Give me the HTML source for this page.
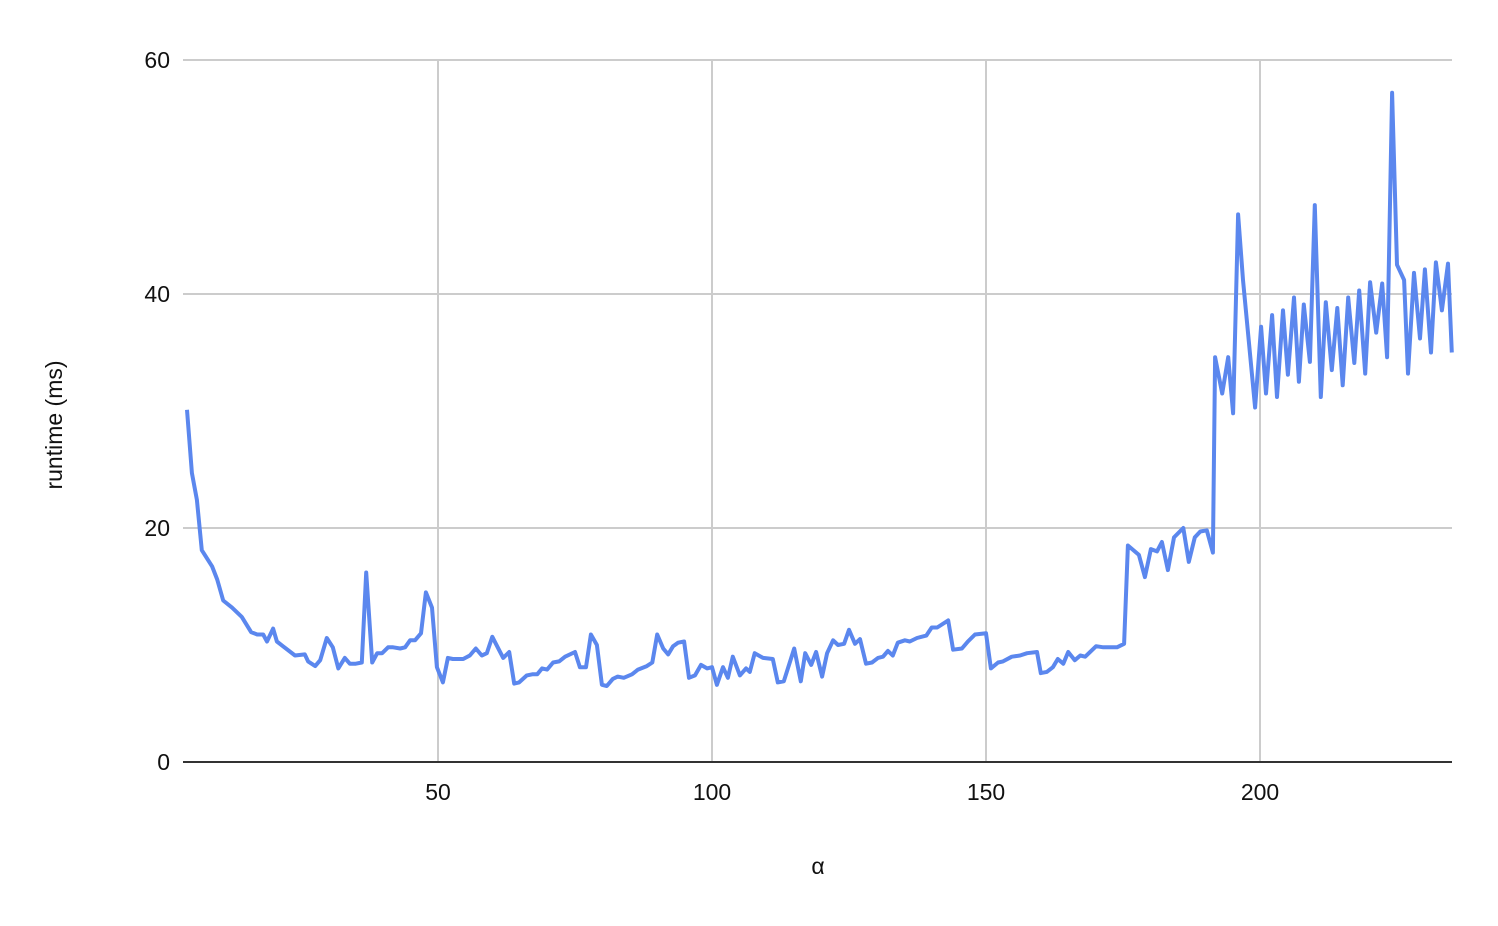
<!DOCTYPE html>
<html><head><meta charset="utf-8"><style>
html,body{margin:0;padding:0;background:#fff;}
svg{display:block;font-family:"Liberation Sans",Arial,sans-serif;}
</style></head><body>
<svg id="chart" width="1498" height="926">
<g id="grid"></g>
<g id="axes"></g>
<g id="series"></g>
<text x="62" y="425" transform="rotate(-90 62 425)" text-anchor="middle" font-size="23" fill="#111">runtime (ms)</text>
<text x="818" y="874" text-anchor="middle" font-size="23" fill="#111">α</text>
</svg>
<script>
const xTicks = [50, 100, 150, 200];
const yTicks = [0, 20, 40, 60];
const alphaVals = [4.2,5.1,6.0,6.9,8.8,9.7,10.8,12.4,14.2,15.9,17.0,18.1,18.8,19.9,20.6,21.7,23.9,25.7,26.3,27.6,28.5,29.7,30.8,31.8,33.0,33.9,35.0,36.1,36.9,38.0,38.9,39.8,40.9,41.8,43.1,44.0,44.9,45.8,46.9,47.8,48.9,49.8,50.9,51.8,52.7,54.6,55.8,56.9,58.0,58.9,59.9,60.9,61.9,
63.0,63.9,64.8,66.2,67.2,68.1,69.0,69.9,71.0,72.1,73.2,75.0,75.9,77.0,77.9,79.0,79.9,80.8,81.9,82.8,83.9,85.4,86.5,88.1,89.1,90.0,91.1,92.0,92.9,93.8,94.9,95.8,96.9,98.0,99.1,100.0,100.9,102.0,102.9,103.8,105.1,106.2,106.9,107.8,109.3,111.1,112.0,113.1,115.0,116.2,117.0,118.1,119.0,120.1,
121.0,122.1,123.0,124.1,125.0,126.1,127.0,128.1,129.2,130.3,131.2,132.1,133.0,133.9,135.2,136.1,137.4,139.1,140.1,141.1,143.1,144.0,145.6,146.7,148.0,150.0,150.9,152.2,153.1,154.7,156.2,157.5,159.3,160.0,161.1,162.2,163.1,164.1,165.0,166.2,167.2,168.1,170.1,171.4,173.9,175.2,175.9,177.9,179.0,180.1,181.2,182.1,183.2,184.3,186.0,187.0,188.1,189.1,190.3,191.4,
191.8,193.1,194.2,195.1,196.0,196.9,199.1,200.2,201.1,202.2,203.1,204.2,205.1,206.2,207.1,208.0,209.1,210.0,211.1,212.0,213.1,214.1,215.1,216.1,217.2,218.1,219.2,220.1,221.2,222.3,223.2,224.1,225.0,226.3,227.0,228.1,229.2,230.1,231.2,232.1,233.2,234.3,235.0];
const runtimeVals = [30.1,24.7,22.4,18.1,16.7,15.6,13.8,13.2,12.4,11.1,10.9,10.9,10.3,11.4,10.3,9.9,9.1,9.2,8.6,8.2,8.7,10.6,9.8,8.0,8.9,8.4,8.4,8.5,16.2,8.5,9.3,9.3,9.8,9.8,9.7,9.8,10.4,10.4,11.0,14.5,13.2,8.1,6.8,8.9,8.8,8.8,9.1,9.7,9.1,9.3,10.7,9.8,8.9,
9.4,6.7,6.8,7.4,7.5,7.5,8.0,7.9,8.5,8.6,9.0,9.4,8.1,8.1,10.9,10.0,6.6,6.5,7.1,7.3,7.2,7.5,7.9,8.2,8.5,10.9,9.7,9.2,9.9,10.2,10.3,7.2,7.4,8.3,8.0,8.1,6.6,8.1,7.2,9.0,7.4,8.0,7.7,9.3,8.9,8.8,6.8,6.9,9.7,6.9,9.3,8.3,9.4,7.3,
9.3,10.4,10.0,10.1,11.3,10.1,10.5,8.4,8.5,8.9,9.0,9.5,9.1,10.2,10.4,10.3,10.6,10.8,11.5,11.5,12.1,9.6,9.7,10.3,10.9,11.0,8.0,8.5,8.6,9.0,9.1,9.3,9.4,7.6,7.7,8.1,8.8,8.4,9.4,8.7,9.1,9.0,9.9,9.8,9.8,10.1,18.5,17.7,15.8,18.2,18.0,18.8,16.4,19.2,20.0,17.1,19.2,19.7,19.8,17.9,
34.6,31.5,34.6,29.8,46.8,41.2,30.3,37.2,31.5,38.2,31.2,38.6,33.1,39.7,32.5,39.1,34.2,47.6,31.2,39.3,33.5,38.8,32.2,39.7,34.1,40.3,33.2,41.0,36.7,40.9,34.6,57.2,42.5,41.2,33.2,41.8,36.2,42.1,35.0,42.7,38.6,42.6,35.0];

const NS = 'http://www.w3.org/2000/svg';
const xScale = a => 164 + 5.48 * a;
const yScale = v => 762 - 11.7 * v;
const plotL = 183, plotR = 1452, plotT = 60, plotB = 762;
function mk(tag, attrs, parent){ const e = document.createElementNS(NS, tag); for (const k in attrs) e.setAttribute(k, attrs[k]); parent.appendChild(e); return e; }
const grid = document.getElementById('grid'), axes = document.getElementById('axes'), series = document.getElementById('series');
yTicks.forEach(t => {
  const y = yScale(t);
  if (t !== 0) {
    const l = mk('line', {x1: plotL, x2: plotR, y1: y, y2: y, stroke: '#cccccc', 'stroke-width': 2}, grid);
    
    
  }
  const tx = mk('text', {x: 170, y: y + 8, 'text-anchor': 'end', 'font-size': 23, fill: '#111'}, axes);
  tx.textContent = t;
  
  
});
xTicks.forEach(t => {
  const x = xScale(t);
  const l = mk('line', {x1: x, x2: x, y1: plotT, y2: plotB, stroke: '#cccccc', 'stroke-width': 2}, grid);
  
  
  const tx = mk('text', {x: x, y: 800, 'text-anchor': 'middle', 'font-size': 23, fill: '#111'}, axes);
  tx.textContent = t;
  
  
});
const base = mk('line', {x1: plotL, x2: plotR, y1: yScale(0), y2: yScale(0), stroke: '#333', 'stroke-width': 2}, axes);


const d = alphaVals.map((a, i) => (i ? 'L' : 'M') + xScale(a).toFixed(1) + ' ' + yScale(runtimeVals[i]).toFixed(1)).join(' ');
const p = mk('path', {d: d, fill: 'none', stroke: '#5b87ee', 'stroke-width': 4, 'stroke-linejoin': 'round'}, series);


</script>
</body></html>
